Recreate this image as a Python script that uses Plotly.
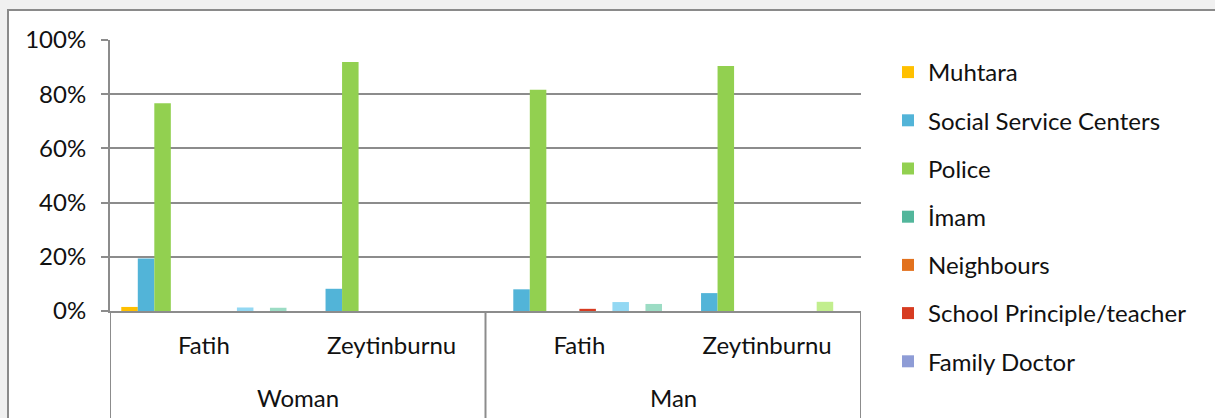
import plotly.graph_objects as go

genders = ["Woman", "Woman", "Man", "Man"]
districts = ["Fatih", "Zeytinburnu", "Fatih", "Zeytinburnu"]
group_labels = ["Woman", "Man"]

series_names = ["Muhtara", "Social Service Centers", "Police", "İmam", "Neighbours",
                "School Principle/teacher", "Family Doctor", "Other 1", "Other 2", "Other 3"]
series_colors = ["#FFC000", "#52B4D8", "#92D050", "#52B69B", "#E2711D",
                 "#D73B21", "#8E9CD6", "#93D8F3", "#C2EE8E", "#9CDCC4"]
series_in_legend = [True, True, True, True, True, True, True, False, False, False]

muhtara = [0.015, 0.0, 0.0, 0.0]
social = [0.194, 0.082, 0.080, 0.066]
police = [0.767, 0.919, 0.816, 0.904]
imam = [0.0, 0.0, 0.0, 0.0]
neighbours = [0.0, 0.0, 0.0, 0.0]
school = [0.0, 0.0, 0.008, 0.0]
family_doctor = [0.0, 0.0, 0.0, 0.0]
other1 = [0.013, 0.0, 0.033, 0.0]
other2 = [0.0, 0.0, 0.0, 0.034]
other3 = [0.012, 0.0, 0.026, 0.0]
series_values = [muhtara, social, police, imam, neighbours, school, family_doctor,
                 other1, other2, other3]

y_ticks = [0, 0.2, 0.4, 0.6, 0.8, 1.0]
y_ticktext = ["0%", "20%", "40%", "60%", "80%", "100%"]

cats = [g + "|" + d for g, d in zip(genders, districts)]

FONT = "Lato"
FS = 24
GRID = "#8C8C8C"

fig = go.Figure()
for i, (name, col, vals, leg) in enumerate(zip(series_names, series_colors, series_values, series_in_legend)):
    fig.add_trace(go.Bar(
        x=cats, y=vals, name=name, marker=dict(color=col, line=dict(width=0)),
        showlegend=leg, legendgroup="g%d" % i,
    ))

W, H = 1215, 418
L, R, T, B = 110, 354, 40, 107
pw, ph = W - L - R, H - T - B

def px_x(p):
    return (p - L) / pw

def px_y(p):
    return (H - B - p) / ph

shapes = [
    dict(type="rect", xref="paper", yref="paper", x0=px_x(8), x1=px_x(1300),
         y0=px_y(500), y1=px_y(10), fillcolor="white",
         line=dict(color="#8A8A8A", width=2), layer="below"),
]
n = len(cats)
half = n // len(group_labels)
for k in range(len(group_labels) + 1):
    xpos = k * half - 0.5
    shapes.append(dict(type="line", xref="x", yref="paper", x0=xpos, x1=xpos,
                       y0=0, y1=px_y(418), line=dict(color=GRID, width=2)))

annotations = []
for k, g in enumerate(group_labels):
    annotations.append(dict(text=g, xref="x", yref="paper", x=k * half + (half - 1) / 2,
                            y=px_y(398), showarrow=False, yanchor="middle",
                            font=dict(family=FONT, size=FS, color="#111111")))

fig.update_layout(
    width=W, height=H,
    margin=dict(l=L, r=R, t=T, b=B),
    paper_bgcolor="#F0F0F0", plot_bgcolor="rgba(0,0,0,0)",
    barmode="group", bargap=0.12, bargroupgap=0,
    font=dict(family=FONT, size=FS, color="#111111"),
    shapes=shapes, annotations=annotations,
    legend=dict(x=px_x(888), xanchor="left", y=px_y(50), yanchor="top",
                font=dict(family=FONT, size=FS, color="#111111"),
                tracegroupgap=14, bgcolor="rgba(0,0,0,0)", maxheight=400),
    xaxis=dict(type="category", tickvals=cats, ticktext=districts, showgrid=False,
               showline=True, linecolor=GRID, linewidth=2, ticks="",
               ticklabelstandoff=12, range=[-0.5, n - 0.5],
               tickfont=dict(family=FONT, size=FS)),
    yaxis=dict(range=[0, 1.0], tickvals=y_ticks, ticktext=y_ticktext,
               showgrid=True, gridcolor=GRID, gridwidth=2,
               showline=True, linecolor=GRID, linewidth=2,
               ticks="outside", ticklen=7, tickcolor=GRID, tickwidth=2,
               ticklabelstandoff=10,
               zeroline=False, tickfont=dict(family=FONT, size=FS)),
)

fig.write_html("out.html", config={"displayModeBar": False},
               post_script="document.body.style.margin='0';document.body.style.background='#F0F0F0';")
